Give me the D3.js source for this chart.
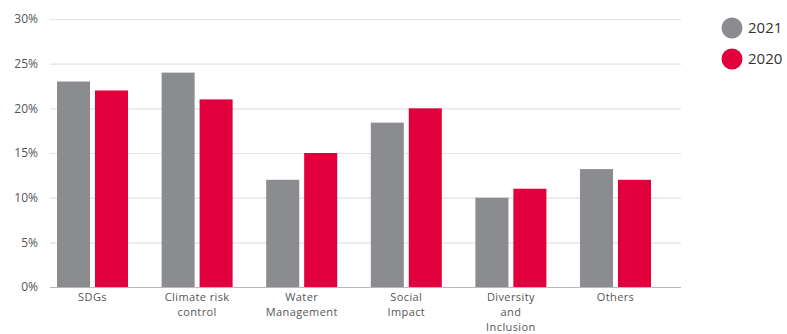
<!DOCTYPE html>
<html>
<head>
<meta charset="utf-8">
<script src="https://cdn.jsdelivr.net/npm/d3@7"></script>
<style>
  html, body { margin: 0; padding: 0; background: #fff; }
  svg { display: block; font-family: "Open Sans", "Noto Sans", sans-serif; }
</style>
</head>
<body>
<svg id="chart"></svg>
<script>
// =====================================================
// Data
// =====================================================
const categories = [
  ["SDGs"],
  ["Climate risk", "control"],
  ["Water", "Management"],
  ["Social", "Impact"],
  ["Diversity", "and", "Inclusion"],
  ["Others"]
];
const seriesNames = ["2021", "2020"];
const values2021  = [23, 24, 12, 18.4, 10, 13.2];
const values2020  = [22, 21, 15, 20, 11, 12];
const yTicks      = [0, 5, 10, 15, 20, 25, 30];

// =====================================================
// Layout
// =====================================================
const width  = 787;
const height = 334;
const colors = { "2021": "#8b8c90", "2020": "#e1003c" };

const svg = d3.select("#chart")
  .attr("width",  width)
  .attr("height", height);

const rows = categories.map((c, i) => ({
  key:    c.join(" "),
  lines:  c,
  "2021": values2021[i],
  "2020": values2020[i]
}));

/** Outer band: one per category */
const x0 = d3.scaleBand()
  .domain(rows.map(d => d.key))
  .range([50, 658])
  .paddingInner(0.321)
  .paddingOuter(0.067);

/** Inner band: one per year */
const x1 = d3.scaleBand()
  .domain(seriesNames)
  .range([0, x0.bandwidth()])
  .paddingInner(0.13);

const y = d3.scaleLinear()
  .domain([0, 30])
  .range([287, 19]);

// ----------
// Grid + Y axis
// =================
const yAxis = svg.append("g")
  .attr("transform", "translate(50,0)")
  .call(d3.axisLeft(y).tickValues(yTicks).tickFormat(d => d + "%").tickSize(-631).tickPadding(12));
yAxis.select(".domain").remove();
yAxis.selectAll(".tick line")
  .attr("stroke", d => d === 0 ? "#b9b9b9" : "#e2e2e2")
  .attr("stroke-width", 1.2);
yAxis.selectAll(".tick text")
  .attr("fill", "#555")
  .attr("font-size", 12)
  .attr("font-family", "'Open Sans', sans-serif");

// ----------
// Bars
// =================
const groups = svg.append("g")
  .selectAll("g")
  .data(rows)
  .join("g")
  .attr("transform", d => `translate(${x0(d.key)},0)`);

groups.selectAll("rect")
  .data(d => seriesNames.map(k => ({ key: k, value: d[k] })))
  .join("rect")
  .attr("x", d => x1(d.key))
  .attr("y", d => y(d.value))
  .attr("width", x1.bandwidth())
  .attr("height", d => y(0) - y(d.value))
  .attr("fill", d => colors[d.key]);

// ----------
// X labels (one text per line)
// =================
const xLabels = svg.append("g")
  .selectAll("g")
  .data(rows)
  .join("g")
  .attr("transform", d => `translate(${x0(d.key) + x0.bandwidth() / 2},0)`);

xLabels.selectAll("text")
  .data(d => d.lines)
  .join("text")
  .attr("x", 0)
  .attr("y", (d, i) => 301 + i * 15)
  .attr("text-anchor", "middle")
  .attr("fill", "#555")
  .attr("font-size", 11)
  .attr("letter-spacing", 0.4)
  .text(d => d);

// ----------
// Legend
// =================
const legend = svg.append("g")
  .selectAll("g")
  .data(seriesNames)
  .join("g")
  .attr("transform", (d, i) => `translate(732,${28 + i * 31})`);

legend.append("circle")
  .attr("r", 10.5)
  .attr("fill", d => colors[d]);

legend.append("text")
  .attr("x", 16)
  .attr("y", 0)
  .attr("dy", "0.36em")
  .attr("fill", "#333")
  .attr("font-size", 15)
  .text(d => d);
</script>
</body>
</html>
